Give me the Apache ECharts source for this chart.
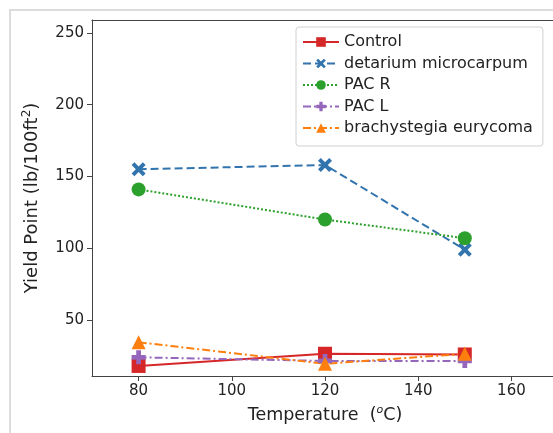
<!DOCTYPE html>
<html>
<head>
<meta charset="utf-8">
<script src="https://cdn.jsdelivr.net/npm/echarts@6/dist/echarts.min.js"></script>
<style>
html, body { margin: 0; padding: 0; background: #fff; }
#chart { width: 553px; height: 433px; }
</style>
</head>
<body>
<div id="chart"></div>
<script>
var temps = [80, 120, 150];
var seriesNames = ['Control', 'detarium microcarpum', 'PAC R', 'PAC L', 'brachystegia eurycoma'];
var control = [18, 26.5, 26];
var detarium = [155, 158, 99];
var pacR = [141, 120, 107];
var pacL = [24, 21.5, 21.5];
var brachy = [34.5, 19.5, 26.5];
var xTicks = [80, 100, 120, 140, 160];
var yTicks = [50, 100, 150, 200, 250];

var xPath = 'path://M2,0 L5,3 L8,0 L10,2 L7,5 L10,8 L8,10 L5,7 L2,10 L0,8 L3,5 L0,2 Z';
var plusPath = 'path://M3.3,0 H6.7 V3.3 H10 V6.7 H6.7 V10 H3.3 V6.7 H0 V3.3 H3.3 Z';

function pairs(vals) {
    var res = [];
    for (var i = 0; i < temps.length; i++) {
        res.push([temps[i], vals[i]]);
    }
    return res;
}

function makeSeries(name, vals, color, symbol, size, dash) {
    return {
        name: name,
        type: 'line',
        data: pairs(vals),
        symbol: symbol,
        symbolSize: size,
        showAllSymbol: true,
        itemStyle: { color: color },
        lineStyle: { color: color, width: 2, type: dash },
        emphasis: { disabled: true },
        z: 3
    };
}

var chart = echarts.init(document.getElementById('chart'));
var option = {
    animation: false,
    backgroundColor: '#fff',
    textStyle: { fontFamily: 'DejaVu Sans' },
    graphic: [{
        type: 'rect',
        shape: { x: 10, y: 10, width: 570, height: 450 },
        style: { fill: 'none', stroke: '#dcdcdc', lineWidth: 2 },
        silent: true, z: -1
    }],
    grid: { left: 92, right: -5, top: 20, bottom: 57, show: false, outerBoundsMode: 'none', containLabel: false },
    legend: {
        orient: 'vertical',
        left: 296,
        top: 27,
        itemWidth: 36,
        itemHeight: 12,
        itemGap: 5.5,
        padding: [7, 10, 10, 6],
        borderColor: '#d0d0d0',
        borderWidth: 1,
        borderRadius: 3,
        backgroundColor: '#fff',
        textStyle: { fontSize: 16, color: '#222', fontFamily: 'DejaVu Sans' },
        data: seriesNames
    },
    xAxis: [{
        type: 'value',
        min: 70,
        max: 170,
        name: 'Temperature  ({sup|o}C)',
        nameLocation: 'middle',
        nameGap: 29,
        nameTextStyle: {
            fontSize: 17.5, color: '#222',
            rich: { sup: { fontSize: 11, fontStyle: 'italic', verticalAlign: 'top', padding: [0, 0, 9, 0], color: '#222' } }
        },
        splitLine: { show: false },
        axisLine: { lineStyle: { color: '#444' } },
        axisTick: { show: true, length: 5, lineStyle: { color: '#444' }, customValues: xTicks },
        axisLabel: { fontSize: 15, color: '#222', margin: 8, customValues: xTicks }
    }, {
        type: 'value',
        position: 'top',
        min: 70,
        max: 170,
        splitLine: { show: false },
        axisLine: { show: true, lineStyle: { color: '#444' } },
        axisTick: { show: false },
        axisLabel: { show: false }
    }],
    yAxis: {
        type: 'value',
        min: 11,
        max: 259,
        name: 'Yield Point (lb/100ft{sup|2})',
        nameLocation: 'middle',
        nameGap: 49,
        nameRotate: 90,
        nameTextStyle: {
            fontSize: 18, color: '#222',
            rich: { sup: { fontSize: 12, verticalAlign: 'top', padding: [0, 0, 10, 0], color: '#222' } }
        },
        splitLine: { show: false },
        axisLine: { show: true, lineStyle: { color: '#444' } },
        axisTick: { show: true, length: 5, lineStyle: { color: '#444' }, customValues: yTicks },
        axisLabel: { fontSize: 15, color: '#222', margin: 8, customValues: yTicks }
    },
    series: [
        makeSeries(seriesNames[0], control, '#d62728', 'rect', 14, 'solid'),
        makeSeries(seriesNames[1], detarium, '#3274ad', xPath, 14, [8, 4]),
        makeSeries(seriesNames[2], pacR, '#2ca02c', 'circle', 14, [2, 2]),
        makeSeries(seriesNames[3], pacL, '#9467bd', plusPath, 14, [8, 3, 2, 3]),
        makeSeries(seriesNames[4], brachy, '#ff7f0e', 'triangle', 14, [8, 3, 2, 3])
    ]
};
chart.setOption(option);
window.onresize = function () {
    chart.resize();
};
</script>
</body>
</html>
